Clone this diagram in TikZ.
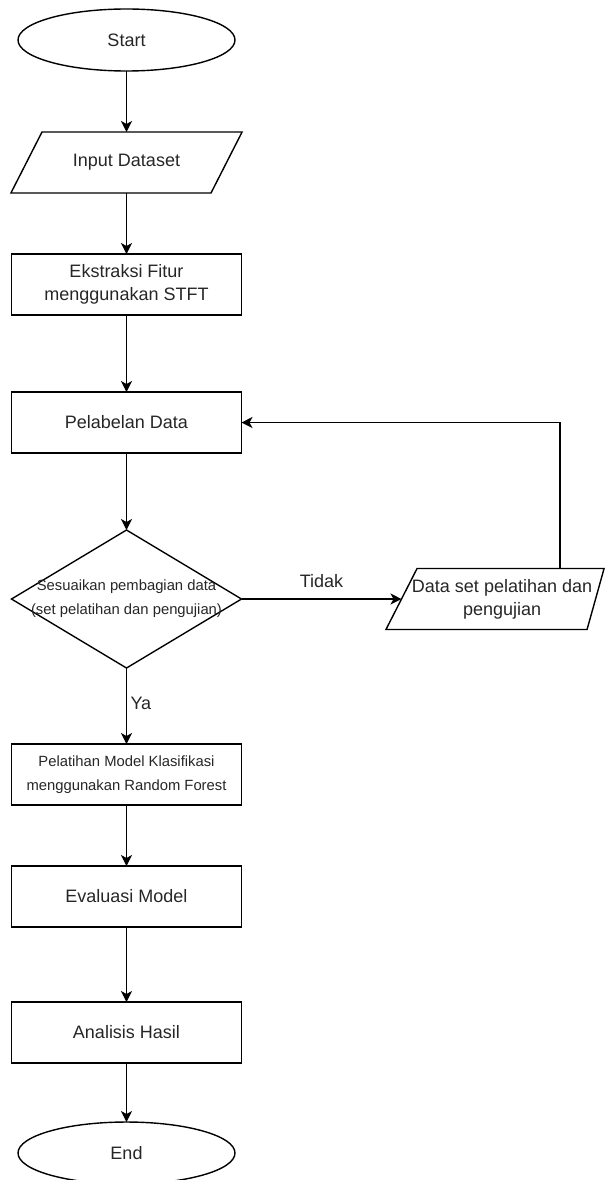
\documentclass[tikz,border=0pt]{standalone}
\usepackage{fontspec}
\setmainfont{Liberation Sans}
\usepackage{tikz}
\usetikzlibrary{positioning, shapes.geometric, arrows.meta}

\begin{document}
\begin{tikzpicture}[
    x=1pt, y=1pt,
    line width=1.4pt,
    node distance=61pt and 160pt,
    every node/.style={
        align=center,
        inner sep=0pt,
        outer sep=0pt,
        text=black!85,
        font=\fontsize{18}{23}\selectfont
    },
    termnode/.style={draw, ellipse, minimum width=217pt, minimum height=62pt},
    ionode/.style={draw, trapezium, trapezium left angle=63, trapezium right angle=117,
        inner xsep=84.5pt, inner ysep=30.5pt},
    procnode/.style={draw, rectangle, minimum width=230pt, minimum height=61pt},
    decisionnode/.style={draw, diamond, minimum width=230pt, minimum height=138pt},
    smalltext/.style={font=\fontsize{14.8}{24}\selectfont},
    edgelabel/.style={inner sep=4pt},
    arrow/.style={-{Stealth[length=11pt, width=11pt, inset=3pt]}}
]
\useasboundingbox (0,0) rectangle (605,-1180);
% Main flow of the training pipeline
\node[termnode] (start) at (126.5,-40) {Start};
\node[ionode, label=center:{Input Dataset}] (input_dataset) [below=of start] {};
\node[procnode] (ekstraksi_fitur) [below=of input_dataset] {Ekstraksi Fitur\\menggunakan STFT};
\node[procnode] (pelabelan_data) [below=77pt of ekstraksi_fitur] {Pelabelan Data};
\node[decisionnode, label={[smalltext]center:{Sesuaikan pembagian data\\(set pelatihan dan pengujian)}}] (pembagian_data) [below=77pt of pelabelan_data] {};
\node[ionode, trapezium right angle=105.6, inner xsep=85pt, label=center:{Data set pelatihan dan\\pengujian}] (data_set) [right=of pembagian_data] {};
\node[procnode, smalltext] (pelatihan_model) [below=76pt of pembagian_data] {Pelatihan Model Klasifikasi\\menggunakan Random Forest};
\node[procnode] (evaluasi_model) [below=of pelatihan_model] {Evaluasi Model};
\node[procnode] (analisis_hasil) [below=75pt of evaluasi_model] {Analisis Hasil};
\node[termnode] (finish) [below=59pt of analisis_hasil] {End};
\draw[arrow] (start) -- (input_dataset);
\draw[arrow] (input_dataset) -- (ekstraksi_fitur);
\draw[arrow] (ekstraksi_fitur) -- (pelabelan_data);
\draw[arrow] (pelabelan_data) -- (pembagian_data);
\draw[arrow] (pembagian_data) -- node[edgelabel, above=7pt] {Tidak} (data_set);
\draw[arrow] ([xshift=58pt]data_set.north) |- (pelabelan_data);
\draw[arrow] (pembagian_data) -- node[edgelabel, right, pos=0.47] {Ya} (pelatihan_model);
\draw[arrow] (pelatihan_model) -- (evaluasi_model);
\draw[arrow] (evaluasi_model) -- (analisis_hasil);
\draw[arrow] (analisis_hasil) -- (finish);
\end{tikzpicture}
\end{document}
